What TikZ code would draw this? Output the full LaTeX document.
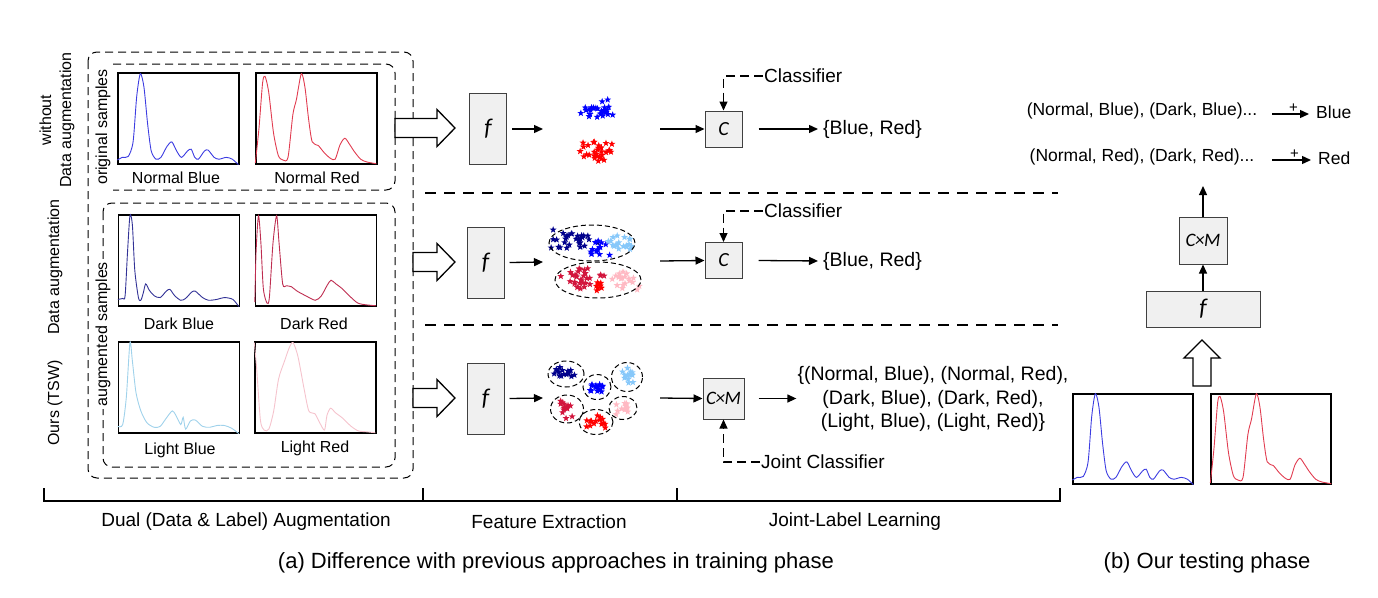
\documentclass[tikz,border=0pt]{standalone}
\usepackage{fontspec}
\setmainfont{Liberation Sans}
\newfontfamily\calfont{Carlito}
\usetikzlibrary{arrows.meta,calc}

\definecolor{cblue}{RGB}{60,60,225}
\definecolor{cred}{RGB}{225,60,80}
\definecolor{cdblue}{RGB}{50,50,150}
\definecolor{cdred}{RGB}{190,45,80}
\definecolor{clblue}{RGB}{160,210,235}
\definecolor{clred}{RGB}{245,195,205}
\definecolor{sblue}{RGB}{0,0,255}
\definecolor{sred}{RGB}{255,0,0}
\definecolor{snavy}{RGB}{0,0,140}
\definecolor{scrim}{RGB}{210,20,60}
\definecolor{slblue}{RGB}{135,200,250}
\definecolor{spink}{RGB}{255,185,195}
\definecolor{boxgray}{RGB}{240,240,240}

% spectrum inside a plot box
\newcommand\spec[3]{\draw[#2, line width=0.9pt, x=121pt, y=91pt, shift={(#1.south west)}]
  plot[smooth, tension=0.45] coordinates {#3};}
% one filled star
\newcommand\drawstar[3]{\fill[#3] (#1,#2) +(-90:3.6) -- +(-54:1.5) -- +(-18:3.6) -- +(18:1.5)
  -- +(54:3.6) -- +(90:1.5) -- +(126:3.6) -- +(162:1.5) -- +(198:3.6) -- +(234:1.5) -- cycle;}
% a cloud of stars
\newcommand\starcloud[6]{\foreach \i in {1,...,#6}{%
  \pgfmathsetmacro\px{#1+#3*(0.6*rand+0.4*rand)}%
  \pgfmathsetmacro\py{#2+#4*(0.6*rand+0.4*rand)}%
  \drawstar{\px}{\py}{#5}}}
% outline arrow to the right
\newcommand\hollowright[2]{\draw[hollow] (#1,#2-9.5) -- (437,#2-9.5) -- (437,#2-18.5)
  -- (455,#2) -- (437,#2+18.5) -- (437,#2+9.5) -- (#1,#2+9.5) -- cycle;}

\def\nbpts{(0,0.05) (0.04,0.08) (0.09,0.09) (0.13,0.25) (0.16,0.75) (0.19,1.0) (0.22,0.85)
  (0.25,0.45) (0.28,0.15) (0.32,0.06) (0.36,0.08) (0.41,0.2) (0.45,0.25) (0.49,0.15)
  (0.53,0.08) (0.58,0.15) (0.61,0.17) (0.64,0.08) (0.67,0.06) (0.72,0.15) (0.75,0.16)
  (0.8,0.08) (0.84,0.06) (0.9,0.08) (0.95,0.06) (1,0)}
\def\nrpts{(0,0.02) (0.03,0.4) (0.06,0.9) (0.08,0.97) (0.11,0.8) (0.15,0.35) (0.19,0.1)
  (0.23,0.05) (0.27,0.08) (0.31,0.55) (0.34,0.72) (0.38,1.0) (0.41,0.85) (0.44,0.5)
  (0.47,0.25) (0.52,0.21) (0.57,0.13) (0.62,0.07) (0.66,0.06) (0.7,0.22) (0.74,0.29)
  (0.78,0.22) (0.82,0.14) (0.87,0.06) (0.92,0.03) (1,0.01)}

\begin{document}
\begin{tikzpicture}[x=1pt, y=-1pt,
  lbl/.style={font=\fontsize{19}{22}\selectfont, inner sep=1pt},
  smalllbl/.style={font=\fontsize{16}{20}\selectfont, inner sep=1pt},
  rightlbl/.style={font=\fontsize{17.5}{21}\selectfont, inner sep=1pt},
  caplbl/.style={font=\fontsize{22}{26}\selectfont, inner sep=1pt},
  gbox/.style={draw=black!75, fill=boxgray, line width=1pt, inner sep=0pt},
  fbox/.style={gbox, minimum width=37pt, minimum height=71pt,
    font=\calfont\itshape\fontsize{24}{26}\selectfont},
  cbox/.style={gbox, minimum width=37pt, minimum height=36pt,
    font=\calfont\itshape\fontsize{20}{22}\selectfont},
  cmbox/.style={gbox, minimum width=41pt, minimum height=41pt,
    font=\calfont\itshape\fontsize{19}{22}\selectfont},
  plotbox/.style={draw, line width=1.3pt, minimum width=121pt, minimum height=91pt, inner sep=0pt},
  dbox/.style={dash pattern=on 8pt off 5pt, line width=1pt, rounded corners=9pt},
  sep/.style={dash pattern=on 11pt off 8pt, line width=1.3pt},
  ring/.style={dash pattern=on 5pt off 3pt, line width=1pt},
  conn/.style={line width=1.3pt, -{Triangle[length=9pt, width=8pt]}},
  dconn/.style={dash pattern=on 9pt off 5pt, line width=1.1pt, -{Triangle[length=9pt, width=8pt]}},
  hollow/.style={draw, fill=white, line width=1.3pt}]
\useasboundingbox (0,0) rectangle (1378,597);

% left panel: samples
\draw[dbox] (88,52) rectangle (413,478);
\draw[dbox] (113,64) -- (395,64) -- (395,190) -- (113,190);
\draw[dbox] (103,203) rectangle (395,467);

\node[plotbox] (nb) at (178.5,118.5) {};
\node[plotbox] (nr) at (316.5,118.5) {};
\node[plotbox] (db) at (179,260.5) {};
\node[plotbox] (dr) at (316,260.5) {};
\node[plotbox] (lb) at (179,387.5) {};
\node[plotbox] (lr) at (315.5,387.5) {};

\spec{nb}{cblue}{\nbpts}
\spec{nr}{cred}{\nrpts}
\spec{db}{cdblue}{(0,0.08) (0.04,0.09) (0.06,0.12) (0.08,0.6) (0.1,1.0) (0.12,0.9) (0.14,0.4)
  (0.17,0.1) (0.19,0.07) (0.21,0.15) (0.23,0.25) (0.26,0.18) (0.3,0.12) (0.35,0.1) (0.4,0.17)
  (0.43,0.19) (0.47,0.12) (0.52,0.07) (0.56,0.09) (0.61,0.16) (0.64,0.17) (0.7,0.1) (0.75,0.07)
  (0.82,0.08) (0.88,0.1) (0.95,0.08) (1,0)}
\spec{dr}{cdred}{(0,0.05) (0.01,0.6) (0.03,1.0) (0.05,0.7) (0.07,0.2) (0.1,0.04) (0.12,0.1)
  (0.15,0.7) (0.18,1.0) (0.2,0.7) (0.23,0.25) (0.26,0.23) (0.3,0.22) (0.35,0.17) (0.42,0.12)
  (0.5,0.07) (0.55,0.12) (0.6,0.24) (0.63,0.29) (0.67,0.25) (0.72,0.2) (0.78,0.12) (0.85,0.04)
  (0.92,0.02) (1,0.01)}
\spec{lb}{clblue}{(0,0.08) (0.04,0.1) (0.07,0.4) (0.1,1.0) (0.12,0.8) (0.15,0.45) (0.19,0.25)
  (0.24,0.12) (0.3,0.07) (0.35,0.08) (0.4,0.17) (0.45,0.25) (0.48,0.2) (0.52,0.1) (0.54,0.18)
  (0.56,0.05) (0.6,0.14) (0.64,0.15) (0.7,0.08) (0.76,0.07) (0.82,0.09) (0.88,0.09) (0.94,0.06) (1,0)}
\spec{lr}{clred}{(0,1.0) (0.02,0.7) (0.05,0.15) (0.08,0.04) (0.12,0.05) (0.16,0.25) (0.2,0.6)
  (0.25,0.8) (0.29,0.95) (0.32,1.0) (0.36,0.85) (0.41,0.5) (0.45,0.25) (0.5,0.22) (0.54,0.12)
  (0.58,0.04) (0.6,0.2) (0.63,0.28) (0.67,0.23) (0.73,0.17) (0.8,0.08) (0.86,0.03) (0.93,0.02) (1,0.01)}

\node[smalllbl] (nbt) at (176,178) {Normal Blue};
\node[smalllbl] (nrt) at (317,178) {Normal Red};
\node[smalllbl] (dbt) at (179,324) {Dark Blue};
\node[smalllbl] (drt) at (314,324) {Dark Red};
\node[smalllbl] (lbt) at (180,450) {Light Blue};
\node[smalllbl] (lrt) at (315,448) {Light Red};

\node[smalllbl, rotate=90, fill=white] (orig) at (103,127) {original samples};
\node[smalllbl, rotate=90, fill=white, inner sep=3pt] (augm) at (103,334) {augmented samples};

\node[smalllbl, rotate=90, align=center] (row1) at (57,120) {without\\Data augmentation};
\node[smalllbl, rotate=90] (row2) at (55,267) {Data augmentation};
\node[smalllbl, rotate=90] (row3) at (55,403) {Ours (TSW)};

% hollow arrows into f
\hollowright{395}{128}
\hollowright{413}{262}
\hollowright{413}{398}

% feature extraction
\node[fbox] (f1) at (488,129) {f};
\node[fbox] (f2) at (485.5,262.5) {f};
\node[fbox] (f3) at (485.5,398.5) {f};

\coordinate (k1) at (543,129);
\coordinate (k2) at (543,262);
\coordinate (k3) at (543,398);
\coordinate (m1) at (660,129);
\coordinate (m2) at (660,261);
\coordinate (m3) at (660,398);
\draw[conn] (f1.east) ++(5,0) -- (k1);
\draw[conn] (f2.east) ++(5,0) -- (k2);
\draw[conn] (f3.east) ++(5,0) -- (k3);

% clusters
\pgfmathsetseed{11}
\starcloud{596}{109}{21}{11}{sblue}{28}
\starcloud{597}{150}{22}{13}{sred}{30}

\starcloud{574}{240}{26}{13}{snavy}{30}
\starcloud{598}{248}{13}{10}{sblue}{14}
\starcloud{621}{245}{15}{11}{slblue}{20}
\starcloud{580}{278}{26}{13}{scrim}{30}
\starcloud{600}{285}{10}{8}{sred}{8}
\starcloud{624}{282}{17}{13}{spink}{20}
\draw[ring] (592,243) ellipse [x radius=43pt, y radius=18pt];
\draw[ring] (598,280) ellipse [x radius=43pt, y radius=18pt];

\starcloud{566}{374}{13}{9}{snavy}{15}
\starcloud{597}{387}{10}{9}{sblue}{15}
\starcloud{627}{377}{11}{10}{slblue}{15}
\starcloud{567}{409}{12}{10}{scrim}{15}
\starcloud{596}{422}{12}{9}{sred}{15}
\starcloud{623}{408}{10}{8}{spink}{13}
\draw[ring] (566,374) ellipse [x radius=18pt, y radius=13pt];
\draw[ring] (597,387) ellipse [x radius=14pt, y radius=12.5pt];
\draw[ring] (627,377) ellipse [x radius=15.5pt, y radius=14.5pt];
\draw[ring] (567,409) ellipse [x radius=16.5pt, y radius=14pt];
\draw[ring] (596,422) ellipse [x radius=17pt, y radius=12.5pt];
\draw[ring] (623,408) ellipse [x radius=14pt, y radius=11.5pt];

% classifiers
\node[cbox] (c1) at (723.5,129) {C};
\node[cbox] (c2) at (723.5,260.5) {C};
\node[cmbox] (c3) at (723.5,398.5) {C\kern-0.5pt\fontspec{Carlito}×\kern-0.5pt\itshape M};
\draw[conn] (m1) -- (c1.west);
\draw[conn] (m2) -- (c2.west);
\draw[conn] (m3) -- (c3.west);

\node[lbl, anchor=west] (cls1) at (763,76) {Classifier};
\node[lbl, anchor=west] (cls2) at (763,211) {Classifier};
\node[lbl, anchor=west] (jcls) at (760,462) {Joint Classifier};
\draw[dconn] (cls1.west) -| (c1.north);
\draw[dconn] (cls2.west) -| (c2.north);
\draw[dconn] (jcls.west) -| (c3.south);

\node[lbl, anchor=west, font=\fontsize{19.5}{22}\selectfont] (o1) at (822,129) {\{Blue, Red\}};
\node[lbl, anchor=west, font=\fontsize{19.5}{22}\selectfont] (o2) at (822,261) {\{Blue, Red\}};
\node[lbl, align=center, font=\fontsize{19.5}{23.5}\selectfont] (o3) at (933,399)
  {\{(Normal, Blue), (Normal, Red),\\(Dark, Blue), (Dark, Red),\\(Light, Blue), (Light, Red)\}};
\draw[conn, shorten >=4pt] ($(c1.east)+(16,0)$) -- (o1.west);
\draw[conn, shorten >=4pt] ($(c2.east)+(16,0)$) -- (o2.west);
\draw[conn] ($(c3.east)+(14,0)$) -- (o3.west |- c3.east);

% separators
\draw[sep] (425,193) -- (1058,193);
\draw[sep] (425,325) -- (1058,325);

% bottom bracket
\draw[line width=1.3pt] (44,488) -- (44,501) -- (1060,501) -- (1060,488);
\draw[line width=1.3pt] (423,488) -- (423,501);
\draw[line width=1.3pt] (677,488) -- (677,501);
\node[lbl] (ph1) at (246,522) {Dual (Data \& Label) Augmentation};
\node[lbl] (ph2) at (549,522) {Feature Extraction};
\node[lbl] (ph3) at (855,522) {Joint-Label Learning};
\node[caplbl] (capa) at (556,563) {(a) Difference with previous approaches in training phase};
\node[caplbl] (capb) at (1207,563) {(b) Our testing phase};

% testing phase
\node[plotbox, minimum width=120pt, minimum height=90pt] (tb) at (1133,439) {};
\node[plotbox, minimum width=120pt, minimum height=90pt] (tr) at (1271,439) {};
\spec{tb}{cblue}{\nbpts}
\spec{tr}{cred}{\nrpts}
\draw[hollow] (1193,386) -- (1193,358) -- (1184,358) -- (1202,340) -- (1220,358)
  -- (1211,358) -- (1211,386) -- cycle;
\node[gbox, minimum width=114pt, minimum height=36pt,
  font=\calfont\itshape\fontsize{24}{26}\selectfont] (tf) at (1203,309) {f};
\node[gbox, minimum width=48pt, minimum height=47pt,
  font=\calfont\itshape\fontsize{19}{22}\selectfont] (tc) at (1203,240.5)
  {C\kern-0.5pt\fontspec{Carlito}×\kern-0.5pt\itshape M};
\coordinate (top) at (1203,186);
\draw[conn] (tf.north) -- (tc.south);
\draw[conn] (tc.north) -- (top);

\node[rightlbl] (rb) at (1142,111) {(Normal, Blue), (Dark, Blue)...};
\node[rightlbl] (rr) at (1142,157) {(Normal, Red), (Dark, Red)...};
\node[rightlbl, anchor=west] (bl) at (1315,112) {Blue};
\node[rightlbl, anchor=west] (rd) at (1317,158) {Red};
\draw[conn, shorten >=6pt] (1272,114) -- node[above=-2pt, font=\fontsize{15}{16}\selectfont] {+} (bl.west |- 0,114);
\draw[conn, shorten >=6pt] (1272,160) -- node[above=-2pt, font=\fontsize{15}{16}\selectfont] {+} (rd.west |- 0,160);
\end{tikzpicture}
\end{document}
